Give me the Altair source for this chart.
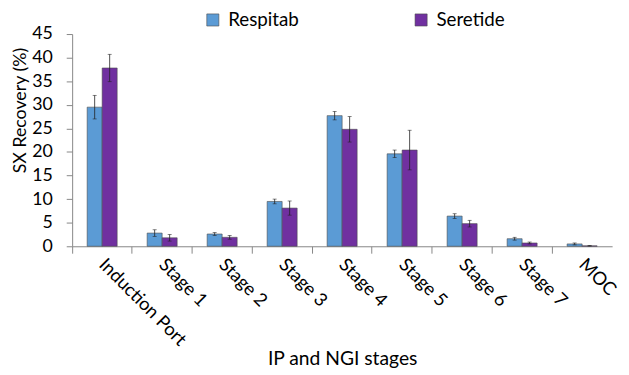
import altair as alt
import pandas as pd

stages = ["Induction Port", "Stage 1", "Stage 2", "Stage 3", "Stage 4",
          "Stage 5", "Stage 6", "Stage 7", "MOC"]
respitab = [29.5, 2.8, 2.6, 9.5, 27.7, 19.6, 6.4, 1.6, 0.5]
respitab_err = [2.5, 0.7, 0.3, 0.5, 0.9, 0.8, 0.5, 0.3, 0.2]
seretide = [37.8, 1.8, 1.9, 8.1, 24.8, 20.4, 4.8, 0.7, 0.1]
seretide_err = [2.9, 0.7, 0.4, 1.5, 2.7, 4.2, 0.7, 0.2, 0.05]
series = ["Respitab", "Seretide"]
colors = ["#5B9BD5", "#7030A0"]
y_ticks = [0, 5, 10, 15, 20, 25, 30, 35, 40, 45]

rows = []
for i, s in enumerate(stages):
    rows.append({"stage": s, "product": "Respitab", "value": respitab[i],
                 "lo": respitab[i] - respitab_err[i], "hi": respitab[i] + respitab_err[i]})
    rows.append({"stage": s, "product": "Seretide", "value": seretide[i],
                 "lo": seretide[i] - seretide_err[i], "hi": seretide[i] + seretide_err[i]})
df = pd.DataFrame(rows)

FONT = "Lato"

x_axis = alt.Axis(labelAngle=45, labelAlign="left", labelBaseline="middle",
                  labelFontSize=18.5, labelPadding=8, bandPosition=0,
                  labelOverlap=False, labelBound=False,
                  tickSize=7, domainColor="#868686", tickColor="#868686",
                  titleFontSize=19.5, titleFontWeight="normal",
                  titleY=120, titleBaseline="alphabetic",
                  labelColor="#000", titleColor="#000", labelFont=FONT, titleFont=FONT)
y_axis = alt.Axis(values=y_ticks, grid=False, tickSize=6, labelOverlap=False,
                  labelFontSize=18, labelPadding=14, domainColor="#868686",
                  tickColor="#868686", titleFontSize=18, titleFontWeight="normal",
                  titleX=-52, titleY=77, titleAngle=270, titleAlign="center",
                  titleBaseline="middle",
                  labelColor="#000", titleColor="#000",
                  labelFont=FONT, titleFont=FONT)
x_scale = alt.Scale(paddingInner=0, paddingOuter=0)
y_scale = alt.Scale(domain=[0, 45], nice=False)
XT = "IP and NGI stages"
YT = "SX Recovery (%)"

x = alt.X("stage:N", sort=stages, title=XT, scale=x_scale, axis=x_axis)
xo = alt.XOffset("product:N", sort=series,
                 scale=alt.Scale(paddingInner=0, paddingOuter=1))

bars = alt.Chart(df).mark_bar(stroke="#4a4a4a", strokeWidth=0.6).encode(
    x=x,
    xOffset=xo,
    y=alt.Y("value:Q", scale=y_scale, title=YT, axis=y_axis),
    color=alt.Color("product:N", sort=series,
                    scale=alt.Scale(domain=series, range=colors),
                    legend=alt.Legend(title=None, orient="none", direction="horizontal",
                                      legendX=133, legendY=-24, symbolType="square",
                                      symbolSize=150, symbolStrokeColor="#4a4a4a",
                                      symbolStrokeWidth=0.6, labelFontSize=19,
                                      labelFont=FONT, labelColor="#000",
                                      labelOffset=6, columnPadding=114)),
)

err = alt.Chart(df).mark_rule(color="#222", strokeWidth=0.8).encode(
    x=x, xOffset=xo,
    y=alt.Y("lo:Q", scale=y_scale, title=YT, axis=y_axis), y2="hi:Q")
cap_lo = alt.Chart(df).mark_tick(color="#222", size=4, thickness=0.8).encode(
    x=x, xOffset=xo, y=alt.Y("lo:Q", scale=y_scale, title=YT, axis=y_axis))
cap_hi = alt.Chart(df).mark_tick(color="#222", size=4, thickness=0.8).encode(
    x=x, xOffset=xo, y=alt.Y("hi:Q", scale=y_scale, title=YT, axis=y_axis))

chart = alt.layer(bars, err, cap_lo, cap_hi).properties(
    width=547, height=215,
    autosize=alt.AutoSizeParams(type="none"),
    padding={"left": 65, "top": 24, "right": 9, "bottom": 126},
).configure(font=FONT).configure_view(stroke=None)

chart.save("out.html", embed_options={"renderer": "svg", "actions": False})
